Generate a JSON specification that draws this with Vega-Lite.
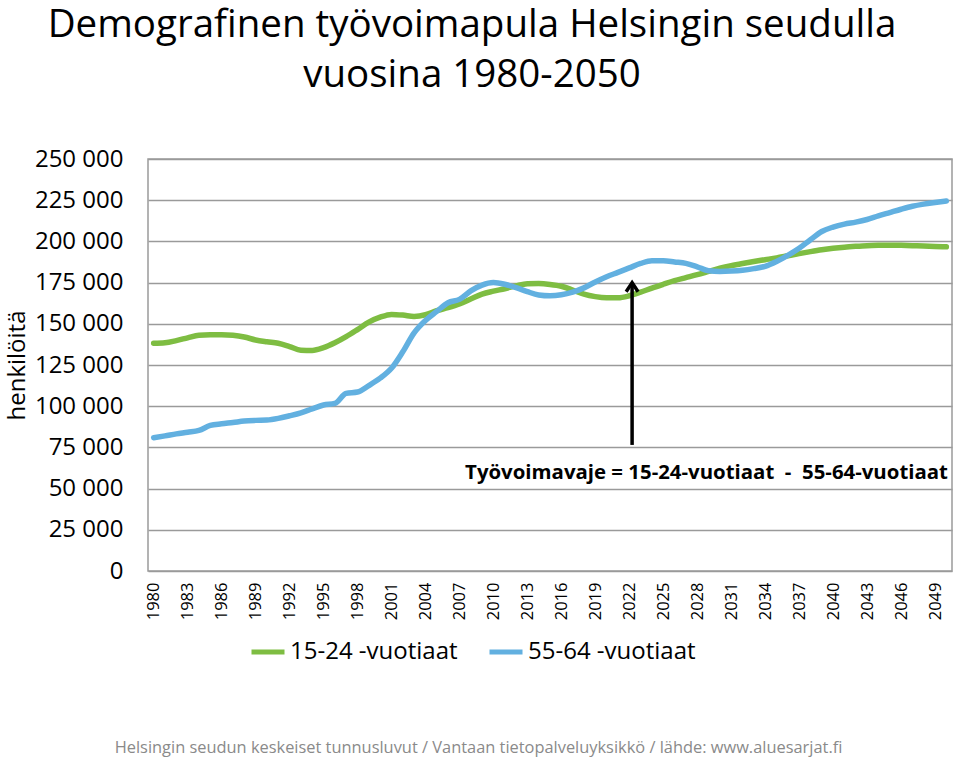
{
  "$schema": "https://vega.github.io/schema/vega-lite/v6.json",
  "autosize": "none",
  "width": 804,
  "height": 412,
  "padding": {"left": 148, "top": 159, "right": 8, "bottom": 186},
  "background": "white",
  "config": {
    "font": "Open Sans",
    "view": {"stroke": "#9a9a9a", "strokeWidth": 1.5}
  },
  "title": {
    "text": ["Demografinen työvoimapula Helsingin seudulla", "vuosina 1980-2050"],
    "anchor": "middle",
    "dx": -78,
    "offset": 52,
    "fontSize": 38.5,
    "fontWeight": "normal",
    "font": "Open Sans",
    "color": "#000000",
    "lineHeight": 50
  },
  "encoding": {
    "x": {
      "field": "year",
      "type": "quantitative",
      "scale": {"domain": [1979.5, 2050.5], "nice": false, "zero": false},
      "axis": {
        "values": [1980, 1983, 1986, 1989, 1992, 1995, 1998, 2001, 2004, 2007, 2010, 2013, 2016, 2019, 2022, 2025, 2028, 2031, 2034, 2037, 2040, 2043, 2046, 2049],
        "format": "d",
        "labelAngle": -90,
        "labelAlign": "right",
        "labelBaseline": "middle",
        "labelFontSize": 16.5,
        "labelColor": "#000000",
        "labelPadding": 11,
        "labelFlush": false,
        "labelOverlap": false,
        "ticks": false,
        "domain": false,
        "grid": false,
        "title": "Helsingin seudun keskeiset tunnusluvut / Vantaan tietopalveluyksikkö / lähde: www.aluesarjat.fi",
        "titleFontSize": 16.4,
        "titleFontWeight": "normal",
        "titleColor": "#8a8a8a",
        "titleX": 330,
        "titleY": 181,
        "titleAlign": "center",
        "titleBaseline": "alphabetic"
      }
    },
    "y": {
      "field": "henkiloita",
      "type": "quantitative",
      "scale": {"domain": [0, 250000], "nice": false},
      "axis": {
        "values": [0, 25000, 50000, 75000, 100000, 125000, 150000, 175000, 200000, 225000, 250000],
        "labelExpr": "replace(format(datum.value, ','), ',', ' ')",
        "labelFontSize": 24,
        "labelColor": "#000000",
        "labelPadding": 25,
        "ticks": false,
        "domain": false,
        "grid": true,
        "gridColor": "#9a9a9a",
        "gridWidth": 1.5,
        "title": "henkilöitä",
        "titleFontSize": 24,
        "titleFontWeight": "normal",
        "titleColor": "#000000",
        "titleAngle": -90,
        "titleX": -131,
        "titleY": 206,
        "titleAlign": "center",
        "titleBaseline": "middle"
      }
    }
  },
  "layer": [
    {
      "data": {
        "values": [
          {"year": 1980, "15-24 -vuotiaat": 138200, "55-64 -vuotiaat": 80900},
          {"year": 1981, "15-24 -vuotiaat": 138500, "55-64 -vuotiaat": 82000},
          {"year": 1982, "15-24 -vuotiaat": 139800, "55-64 -vuotiaat": 83200},
          {"year": 1983, "15-24 -vuotiaat": 141500, "55-64 -vuotiaat": 84200},
          {"year": 1984, "15-24 -vuotiaat": 143100, "55-64 -vuotiaat": 85300},
          {"year": 1985, "15-24 -vuotiaat": 143300, "55-64 -vuotiaat": 88300},
          {"year": 1986, "15-24 -vuotiaat": 143300, "55-64 -vuotiaat": 89300},
          {"year": 1987, "15-24 -vuotiaat": 143000, "55-64 -vuotiaat": 90100},
          {"year": 1988, "15-24 -vuotiaat": 142000, "55-64 -vuotiaat": 91000},
          {"year": 1989, "15-24 -vuotiaat": 140200, "55-64 -vuotiaat": 91400},
          {"year": 1990, "15-24 -vuotiaat": 139100, "55-64 -vuotiaat": 91600},
          {"year": 1991, "15-24 -vuotiaat": 138200, "55-64 -vuotiaat": 92600},
          {"year": 1992, "15-24 -vuotiaat": 136200, "55-64 -vuotiaat": 94200},
          {"year": 1993, "15-24 -vuotiaat": 134000, "55-64 -vuotiaat": 96000},
          {"year": 1994, "15-24 -vuotiaat": 133800, "55-64 -vuotiaat": 98400},
          {"year": 1995, "15-24 -vuotiaat": 135500, "55-64 -vuotiaat": 100700},
          {"year": 1996, "15-24 -vuotiaat": 138500, "55-64 -vuotiaat": 101700},
          {"year": 1997, "15-24 -vuotiaat": 142200, "55-64 -vuotiaat": 107800},
          {"year": 1998, "15-24 -vuotiaat": 146500, "55-64 -vuotiaat": 108600},
          {"year": 1999, "15-24 -vuotiaat": 151000, "55-64 -vuotiaat": 112500},
          {"year": 2000, "15-24 -vuotiaat": 154000, "55-64 -vuotiaat": 117000},
          {"year": 2001, "15-24 -vuotiaat": 155700, "55-64 -vuotiaat": 123000},
          {"year": 2002, "15-24 -vuotiaat": 155300, "55-64 -vuotiaat": 133000},
          {"year": 2003, "15-24 -vuotiaat": 154500, "55-64 -vuotiaat": 144500},
          {"year": 2004, "15-24 -vuotiaat": 155500, "55-64 -vuotiaat": 152000},
          {"year": 2005, "15-24 -vuotiaat": 158000, "55-64 -vuotiaat": 157500},
          {"year": 2006, "15-24 -vuotiaat": 159800, "55-64 -vuotiaat": 162800},
          {"year": 2007, "15-24 -vuotiaat": 162000, "55-64 -vuotiaat": 164800},
          {"year": 2008, "15-24 -vuotiaat": 165000, "55-64 -vuotiaat": 170000},
          {"year": 2009, "15-24 -vuotiaat": 168000, "55-64 -vuotiaat": 173500},
          {"year": 2010, "15-24 -vuotiaat": 169800, "55-64 -vuotiaat": 175000},
          {"year": 2011, "15-24 -vuotiaat": 171300, "55-64 -vuotiaat": 174000},
          {"year": 2012, "15-24 -vuotiaat": 173000, "55-64 -vuotiaat": 172000},
          {"year": 2013, "15-24 -vuotiaat": 174300, "55-64 -vuotiaat": 169500},
          {"year": 2014, "15-24 -vuotiaat": 174400, "55-64 -vuotiaat": 167500},
          {"year": 2015, "15-24 -vuotiaat": 173900, "55-64 -vuotiaat": 167000},
          {"year": 2016, "15-24 -vuotiaat": 172800, "55-64 -vuotiaat": 167600},
          {"year": 2017, "15-24 -vuotiaat": 170500, "55-64 -vuotiaat": 169200},
          {"year": 2018, "15-24 -vuotiaat": 168000, "55-64 -vuotiaat": 171800},
          {"year": 2019, "15-24 -vuotiaat": 166500, "55-64 -vuotiaat": 175400},
          {"year": 2020, "15-24 -vuotiaat": 165800, "55-64 -vuotiaat": 178600},
          {"year": 2021, "15-24 -vuotiaat": 165800, "55-64 -vuotiaat": 181200},
          {"year": 2022, "15-24 -vuotiaat": 167000, "55-64 -vuotiaat": 183900},
          {"year": 2023, "15-24 -vuotiaat": 169200, "55-64 -vuotiaat": 186600},
          {"year": 2024, "15-24 -vuotiaat": 171700, "55-64 -vuotiaat": 188300},
          {"year": 2025, "15-24 -vuotiaat": 174000, "55-64 -vuotiaat": 188200},
          {"year": 2026, "15-24 -vuotiaat": 176200, "55-64 -vuotiaat": 187500},
          {"year": 2027, "15-24 -vuotiaat": 178000, "55-64 -vuotiaat": 186700},
          {"year": 2028, "15-24 -vuotiaat": 179800, "55-64 -vuotiaat": 184600},
          {"year": 2029, "15-24 -vuotiaat": 181800, "55-64 -vuotiaat": 182200},
          {"year": 2030, "15-24 -vuotiaat": 183800, "55-64 -vuotiaat": 181800},
          {"year": 2031, "15-24 -vuotiaat": 185300, "55-64 -vuotiaat": 182000},
          {"year": 2032, "15-24 -vuotiaat": 186600, "55-64 -vuotiaat": 182500},
          {"year": 2033, "15-24 -vuotiaat": 187800, "55-64 -vuotiaat": 183500},
          {"year": 2034, "15-24 -vuotiaat": 188900, "55-64 -vuotiaat": 184900},
          {"year": 2035, "15-24 -vuotiaat": 190000, "55-64 -vuotiaat": 187800},
          {"year": 2036, "15-24 -vuotiaat": 191300, "55-64 -vuotiaat": 191500},
          {"year": 2037, "15-24 -vuotiaat": 192600, "55-64 -vuotiaat": 195800},
          {"year": 2038, "15-24 -vuotiaat": 193800, "55-64 -vuotiaat": 201000},
          {"year": 2039, "15-24 -vuotiaat": 194900, "55-64 -vuotiaat": 206000},
          {"year": 2040, "15-24 -vuotiaat": 195800, "55-64 -vuotiaat": 208700},
          {"year": 2041, "15-24 -vuotiaat": 196500, "55-64 -vuotiaat": 210500},
          {"year": 2042, "15-24 -vuotiaat": 197000, "55-64 -vuotiaat": 211700},
          {"year": 2043, "15-24 -vuotiaat": 197400, "55-64 -vuotiaat": 213300},
          {"year": 2044, "15-24 -vuotiaat": 197600, "55-64 -vuotiaat": 215500},
          {"year": 2045, "15-24 -vuotiaat": 197700, "55-64 -vuotiaat": 217500},
          {"year": 2046, "15-24 -vuotiaat": 197600, "55-64 -vuotiaat": 219500},
          {"year": 2047, "15-24 -vuotiaat": 197400, "55-64 -vuotiaat": 221300},
          {"year": 2048, "15-24 -vuotiaat": 197200, "55-64 -vuotiaat": 222600},
          {"year": 2049, "15-24 -vuotiaat": 196900, "55-64 -vuotiaat": 223600},
          {"year": 2050, "15-24 -vuotiaat": 196700, "55-64 -vuotiaat": 224500}
        ]
      },
      "transform": [{"fold": ["15-24 -vuotiaat", "55-64 -vuotiaat"], "as": ["ryhma", "henkiloita"]}],
      "mark": {"type": "line", "strokeWidth": 5.5, "strokeCap": "round", "strokeJoin": "round", "interpolate": "monotone"},
      "encoding": {
        "color": {
          "field": "ryhma",
          "type": "nominal",
          "scale": {"domain": ["15-24 -vuotiaat", "55-64 -vuotiaat"], "range": ["#7ebd42", "#62b0e0"]},
          "legend": {
            "title": null,
            "orient": "none",
            "direction": "horizontal",
            "legendX": 101,
            "legendY": 474,
            "symbolType": "stroke",
            "symbolSize": 1089,
            "symbolStrokeWidth": 5,
            "labelFontSize": 24,
            "labelLimit": 400,
            "labelColor": "#000000",
            "labelOffset": 3,
            "columnPadding": 21,
            "padding": 0
          }
        }
      }
    },
    {
      "data": {"values": [{"year": 2022.25, "henkiloita": 76500, "to": 173500}]},
      "mark": {"type": "rule", "strokeWidth": 3.5, "color": "#000000"},
      "encoding": {
        "y2": {"field": "to"}
      }
    },
    {
      "data": {"values": [{"year": 2022.25, "henkiloita": 175000}]},
      "mark": {"type": "point", "shape": "M-0.85,1.3L0,0L0.85,1.3", "size": 196, "filled": false, "stroke": "#000000", "strokeWidth": 3.5, "strokeCap": "butt", "opacity": 1}
    },
    {
      "data": {"values": [{"year": 2007.5, "henkiloita": 59500, "label": "Työvoimavaje = 15-24-vuotiaat \u00a0-\u00a0 55-64-vuotiaat"}]},
      "mark": {"type": "text", "align": "left", "baseline": "middle", "fontSize": 20.4, "fontWeight": "bold", "color": "#000000"},
      "encoding": {
        "text": {"field": "label"}
      }
    }
  ]
}
